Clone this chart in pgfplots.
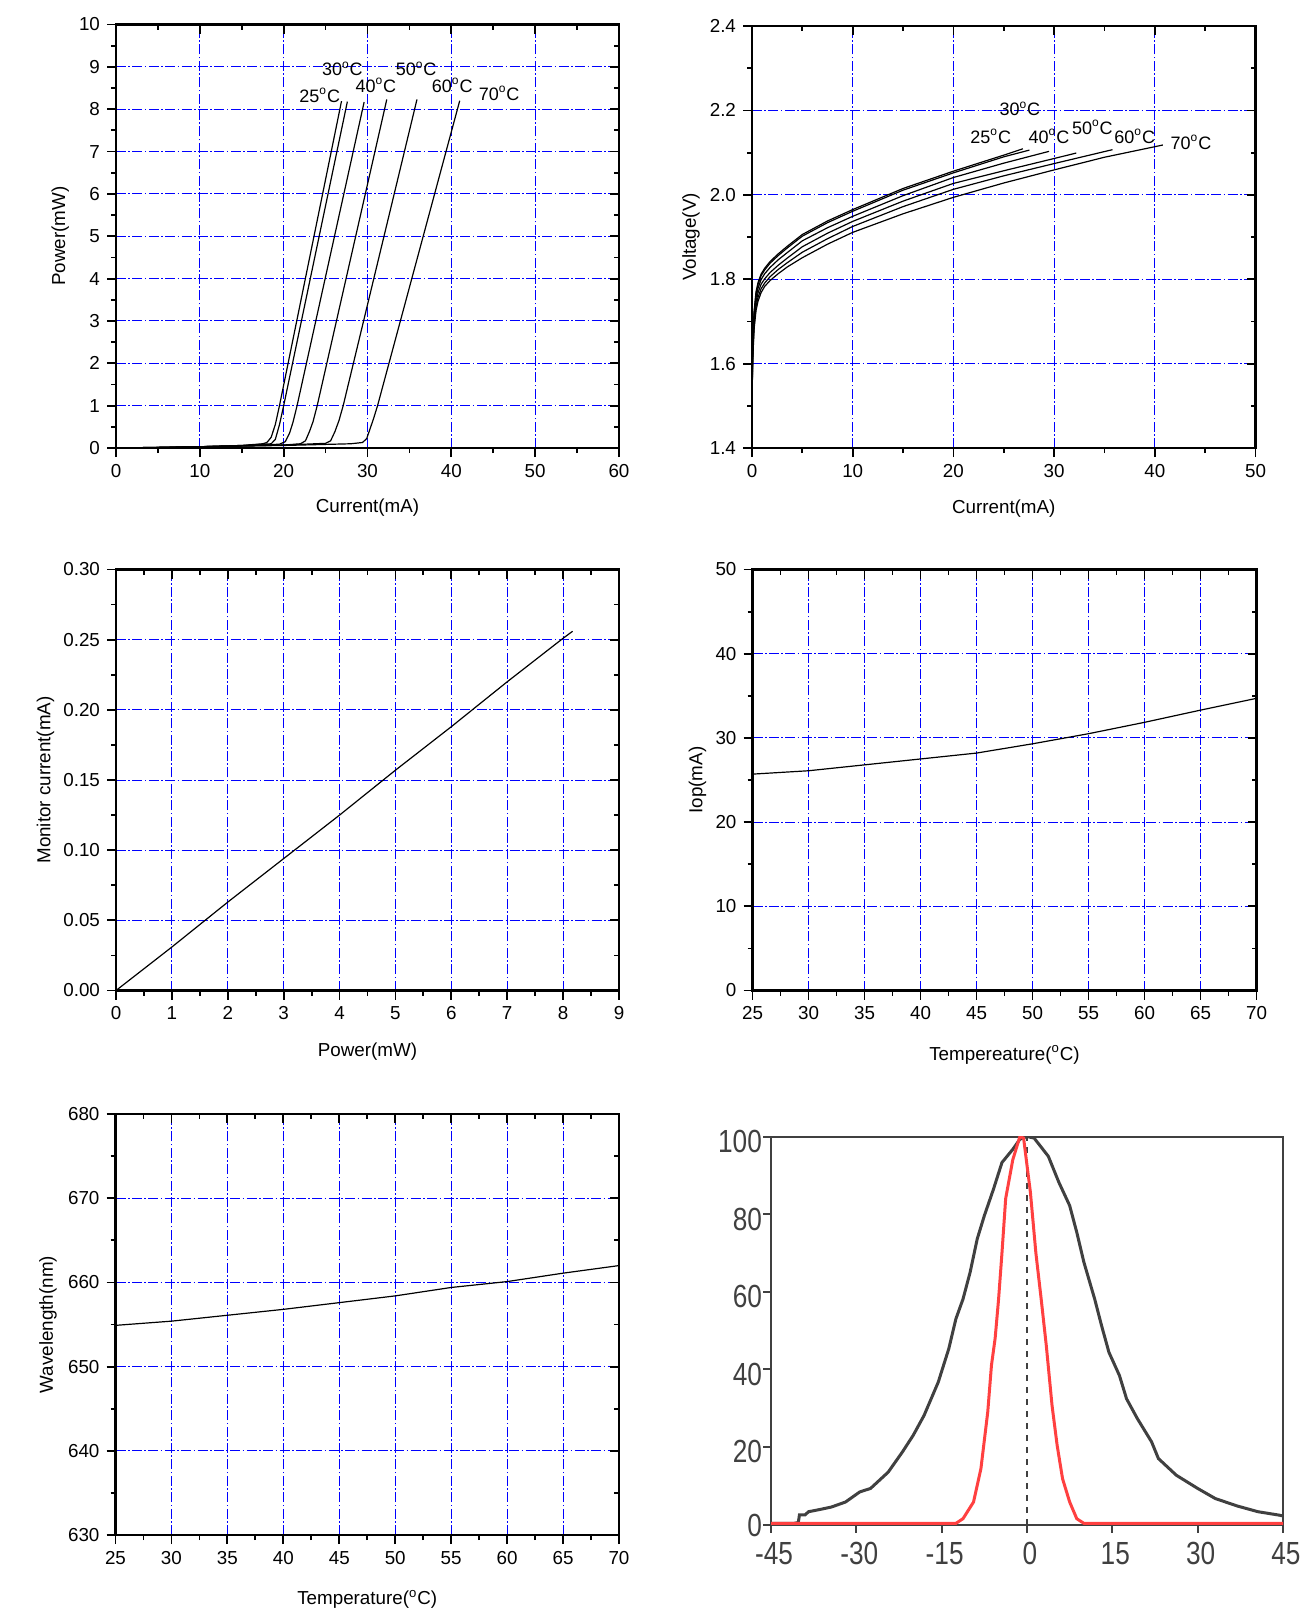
\documentclass[border=0pt]{standalone}
\usepackage{pgfplots}
\pgfplotsset{compat=1.18}
\usepackage{fontspec}
\setmainfont{Liberation Sans}
\newfontfamily\pixfont[FakeStretch=0.82]{Liberation Sans}
\definecolor{gridblue}{RGB}{0,0,255}
\definecolor{dg}{RGB}{64,64,64}
\definecolor{rd}{RGB}{255,64,64}
\pgfplotsset{
 base/.style={scale only axis, anchor=south west, /pgf/number format/assume math mode=true, scaled ticks=false},
 orig/.style={base, axis line style={line width=1.2pt}, tick style={line width=0.9pt,black},
   major tick length=4.5pt, minor tick length=2.5pt, tick align=outside, xtick pos=left, ytick pos=left,
   minor x tick num=1, minor y tick num=1, grid=major,
   major grid style={gridblue, line width=0.5pt, dash pattern=on 5pt off 1.2pt on 0.8pt off 1.2pt},
   tick label style={font=\fontsize{9.4}{11}\selectfont, black},
   label style={font=\fontsize{9.4}{11}\selectfont}},
 mirror/.style={base, axis line style={draw=none}, tick style={line width=0.9pt,black},
   major tick length=4.5pt, minor tick length=2.5pt, tick align=inside, xtick pos=right, ytick pos=right,
   minor x tick num=1, minor y tick num=1, xticklabels={}, yticklabels={}},
 pp/.style={black, line width=0.6pt, no marks},
 lim1/.style={xmin=0,xmax=60,ymin=0,ymax=10, xtick={0,10,...,60}, ytick={0,1,...,10}},
 lim2/.style={xmin=0,xmax=50,ymin=1.4,ymax=2.4, xtick={0,10,...,50}, ytick={1.4,1.6,1.8,2.0,2.2,2.4}},
 lim3/.style={xmin=0,xmax=9,ymin=0,ymax=0.3, xtick={0,1,...,9}, ytick={0,0.05,0.10,0.15,0.20,0.25,0.30}},
 lim4/.style={xmin=25,xmax=70,ymin=0,ymax=50, xtick={25,30,...,70}, ytick={0,10,...,50}},
 lim5/.style={xmin=25,xmax=70,ymin=630,ymax=680, xtick={25,30,...,70}, ytick={630,640,...,680}},
}
\newcommand{\tl}{\fontsize{9}{10}\selectfont}
\begin{document}
\begin{tikzpicture}
\path[use as bounding box] (0,0) rectangle (652.5pt,-811.5pt);

% ---------- Panel 1 ----------
\begin{axis}[orig, lim1, at={(58pt,-224pt)}, width=251.5pt, height=211.75pt,
  xlabel={Current(mA)}, ylabel={Power(mW)},
  xlabel style={at={(axis description cs:0.5,-0.14)}, anchor=center},
  ylabel style={at={(axis description cs:-0.111,0.5)}, anchor=center}]
\addplot[pp] coordinates {(0,0)(5,0.01)(10,0.03)(15,0.06)(17.5,0.1)(18.0,0.13)(18.5,0.25)(19.0,0.55)(19.5,1.0)(26.9,8.19)};
\addplot[pp] coordinates {(0,0)(5,0.01)(10,0.03)(15,0.06)(18.5,0.1)(19.0,0.2)(19.5,0.55)(20.0,1.0)(27.6,8.18)};
\addplot[pp] coordinates {(0,0)(5,0.01)(10,0.03)(15,0.05)(19.5,0.09)(20.2,0.15)(20.7,0.35)(21.1,0.6)(21.6,1.0)(29.6,8.17)};
\addplot[pp] coordinates {(0,0)(10,0.03)(20,0.07)(22,0.1)(22.6,0.17)(23.1,0.4)(23.5,0.62)(24.0,1.0)(32.3,8.23)};
\addplot[pp] coordinates {(0,0)(10,0.03)(20,0.07)(25,0.11)(25.6,0.17)(26.1,0.38)(26.6,0.65)(27.1,1.0)(35.9,8.23)};
\addplot[pp] coordinates {(0,0)(10,0.03)(20,0.06)(28,0.1)(29.4,0.13)(29.9,0.22)(30.3,0.45)(30.7,0.68)(31.2,1.0)(41,8.2)};
\node[font=\tl] at (axis cs:24.3,8.32) {25\textsuperscript{o}C};
\node[font=\tl] at (axis cs:27.0,8.95) {30\textsuperscript{o}C};
\node[font=\tl] at (axis cs:31.0,8.56) {40\textsuperscript{o}C};
\node[font=\tl] at (axis cs:35.8,8.95) {50\textsuperscript{o}C};
\node[font=\tl] at (axis cs:40.1,8.56) {60\textsuperscript{o}C};
\node[font=\tl] at (axis cs:45.7,8.37) {70\textsuperscript{o}C};
\end{axis}
\begin{axis}[mirror, lim1, at={(58pt,-224pt)}, width=251.5pt, height=211.75pt]
\end{axis}

% ---------- Panel 2 ----------
\begin{axis}[orig, lim2, at={(376pt,-224pt)}, width=251.75pt, height=211pt,
  xlabel={Current(mA)}, ylabel={Voltage(V)},
  yticklabel style={/pgf/number format/.cd, fixed, fixed zerofill, precision=1},
  xlabel style={at={(axis description cs:0.5,-0.143)}, anchor=center},
  ylabel style={at={(axis description cs:-0.121,0.5)}, anchor=center}]
\addplot[pp] coordinates {(0,1.40)(0.02,1.56)(0.07,1.645)(0.2,1.722)(0.4,1.770)(0.6,1.792)(0.9,1.812)(1.26,1.826)(1.8,1.842)(2.6,1.860)(3.5,1.878)(5,1.906)(7.5,1.938)(10,1.965)(15,2.015)(20,2.056)(25,2.094)(26.9,2.109)};
\addplot[pp] coordinates {(0,1.40)(0.02,1.555)(0.07,1.64)(0.2,1.717)(0.4,1.766)(0.6,1.788)(0.9,1.808)(1.26,1.822)(1.8,1.838)(2.6,1.856)(3.5,1.874)(5,1.902)(7.5,1.934)(10,1.961)(15,2.011)(20,2.052)(25,2.090)(27.55,2.106)};
\addplot[pp] coordinates {(0,1.40)(0.02,1.55)(0.07,1.63)(0.2,1.708)(0.4,1.757)(0.6,1.779)(0.9,1.799)(1.26,1.813)(1.8,1.828)(2.6,1.846)(3.5,1.863)(5,1.891)(7.5,1.922)(10,1.949)(15,1.998)(20,2.041)(25,2.075)(29.5,2.103)};
\addplot[pp] coordinates {(0,1.40)(0.02,1.545)(0.07,1.62)(0.2,1.697)(0.4,1.746)(0.6,1.768)(0.9,1.788)(1.26,1.801)(1.8,1.816)(2.6,1.833)(3.5,1.850)(5,1.877)(7.5,1.909)(10,1.937)(15,1.985)(20,2.027)(25,2.057)(30,2.086)(32.2,2.099)};
\addplot[pp] coordinates {(0,1.40)(0.02,1.54)(0.07,1.612)(0.2,1.688)(0.4,1.735)(0.6,1.757)(0.9,1.777)(1.26,1.791)(1.8,1.806)(2.6,1.823)(3.5,1.839)(5,1.864)(7.5,1.896)(10,1.925)(15,1.972)(20,2.013)(25,2.045)(30,2.074)(35.8,2.107)};
\addplot[pp] coordinates {(0,1.40)(0.02,1.535)(0.07,1.605)(0.2,1.68)(0.4,1.726)(0.6,1.748)(0.9,1.768)(1.26,1.783)(1.8,1.797)(2.6,1.813)(3.5,1.829)(5,1.851)(7.5,1.883)(10,1.911)(15,1.955)(20,1.994)(25,2.028)(30,2.059)(35,2.089)(40.8,2.118)};
\node[font=\tl] at (axis cs:23.7,2.138) {25\textsuperscript{o}C};
\node[font=\tl] at (axis cs:26.6,2.204) {30\textsuperscript{o}C};
\node[font=\tl] at (axis cs:29.5,2.138) {40\textsuperscript{o}C};
\node[font=\tl] at (axis cs:33.8,2.160) {50\textsuperscript{o}C};
\node[font=\tl] at (axis cs:38.0,2.138) {60\textsuperscript{o}C};
\node[font=\tl] at (axis cs:43.6,2.125) {70\textsuperscript{o}C};
\end{axis}
\begin{axis}[mirror, lim2, at={(376pt,-224pt)}, width=251.75pt, height=211pt]
\end{axis}

% ---------- Panel 3 ----------
\begin{axis}[orig, lim3, at={(58pt,-495.25pt)}, width=251.5pt, height=210.5pt,
  xlabel={Power(mW)}, ylabel={Monitor current(mA)},
  yticklabel style={/pgf/number format/.cd, fixed, fixed zerofill, precision=2},
  xlabel style={at={(axis description cs:0.5,-0.145)}, anchor=center},
  ylabel style={at={(axis description cs:-0.14,0.5)}, anchor=center}]
\addplot[pp] coordinates {(0,0)(1,0.031)(2,0.063)(3,0.094)(4,0.125)(5,0.157)(6,0.188)(7,0.220)(8,0.251)(8.17,0.256)};
\end{axis}
\begin{axis}[mirror, lim3, at={(58pt,-495.25pt)}, width=251.5pt, height=210.5pt]
\end{axis}

% ---------- Panel 4 ----------
\begin{axis}[orig, lim4, at={(376.25pt,-495.25pt)}, width=252pt, height=210.5pt,
  xlabel={Tempereature(\textsuperscript{o}C)}, ylabel={Iop(mA)},
  xlabel style={at={(axis description cs:0.5,-0.153)}, anchor=center},
  ylabel style={at={(axis description cs:-0.109,0.5)}, anchor=center}]
\addplot[pp] coordinates {(25,25.7)(30,26.1)(35,26.8)(40,27.5)(45,28.2)(50,29.3)(55,30.5)(60,31.85)(65,33.3)(70,34.7)};
\end{axis}
\begin{axis}[mirror, lim4, at={(376.25pt,-495.25pt)}, width=252pt, height=210.5pt]
\end{axis}

% ---------- Panel 5 ----------
\begin{axis}[orig, lim5, at={(57.75pt,-767.5pt)}, width=251.75pt, height=210.5pt,
  xlabel={Temperature(\textsuperscript{o}C)}, ylabel={Wavelength(nm)},
  xlabel style={at={(axis description cs:0.5,-0.153)}, anchor=center},
  ylabel style={at={(axis description cs:-0.134,0.5)}, anchor=center}]
\addplot[pp] coordinates {(25,654.9)(30,655.4)(35,656.1)(40,656.8)(45,657.6)(50,658.4)(55,659.4)(60,660.1)(65,661.1)(70,662.0)};
\end{axis}
\begin{axis}[mirror, lim5, at={(57.75pt,-767.5pt)}, width=251.75pt, height=210.5pt]
\end{axis}

% ---------- Panel 6 ----------
\begin{axis}[base, at={(385.5pt,-762.25pt)}, width=256pt, height=194pt,
  xmin=-45, xmax=45, ymin=0, ymax=100,
  axis line style={dg, line width=1pt}, tick style={dg, line width=1pt},
  tick align=outside, xtick pos=left, ytick pos=left, major tick length=4pt,
  xtick={-45,-30,-15,0,15,30,45}, xticklabels={-45,-30,-15,0,15,30,45},
  ytick={20,40,60,80,100}, yticklabels={20,40,60,80,100},
  extra y ticks={0}, extra y tick labels={0},
  extra y tick style={yticklabel style={yshift=1.8pt}},
  tick label style={font=\pixfont\fontsize{16}{16}\selectfont, text=dg},
  xticklabel style={yshift=-1.5pt, xshift=1.5pt},
  yticklabel style={anchor=east, xshift=3pt, yshift=-2.5pt}]
\addplot[dg, line width=0.8pt, dashed, no marks] coordinates {(0,0)(0,100)};
\addplot[dg, line width=1.5pt, no marks] coordinates {(-45,0.3)(-41,0.3)(-40.2,0.5)(-40,2.5)(-39,2.5)(-38.4,3.3)(-36,4)(-34.4,4.5)(-31.9,5.8)(-29.4,8.4)(-27.5,9.3)(-24.4,13.5)(-21.9,18.7)(-20,23)(-18.1,28.1)(-15.6,36.7)(-13.75,45.3)(-12.5,53)(-11.25,58.1)(-10,65)(-8.75,73.6)(-7.5,79.6)(-5.9,86.4)(-4.4,93.3)(-2.5,96.7)(-1.25,99.3)(0,100)(1.25,99.6)(3.75,94.9)(5.6,88.2)(7.5,82.2)(8.75,75.3)(10,67.6)(11.9,58.1)(13.1,51.3)(14.4,44.4)(16.25,38.4)(17.5,32.4)(19.4,27.3)(21.9,21.3)(23.1,17)(26.25,12.7)(30,9.3)(33.1,6.7)(36.9,4.8)(40.6,3.3)(44.4,2.4)(45,2.2)};
\addplot[rd, line width=1.5pt, no marks] coordinates {(-45,0.3)(-12.5,0.3)(-11.25,1.5)(-9.4,5.8)(-8.1,14.4)(-6.9,29)(-6.25,41)(-5.6,48)(-5,58)(-4.4,70)(-3.75,84)(-2.5,94)(-1.25,100)(-0.6,99.6)(0.6,85.6)(1.56,70)(2.5,58)(3.4,46)(4.4,30.7)(5.3,20.4)(6.25,11.8)(7.5,5.8)(8.75,1.5)(10,0.3)(45,0.3)};
\end{axis}
\end{tikzpicture}
\end{document}
